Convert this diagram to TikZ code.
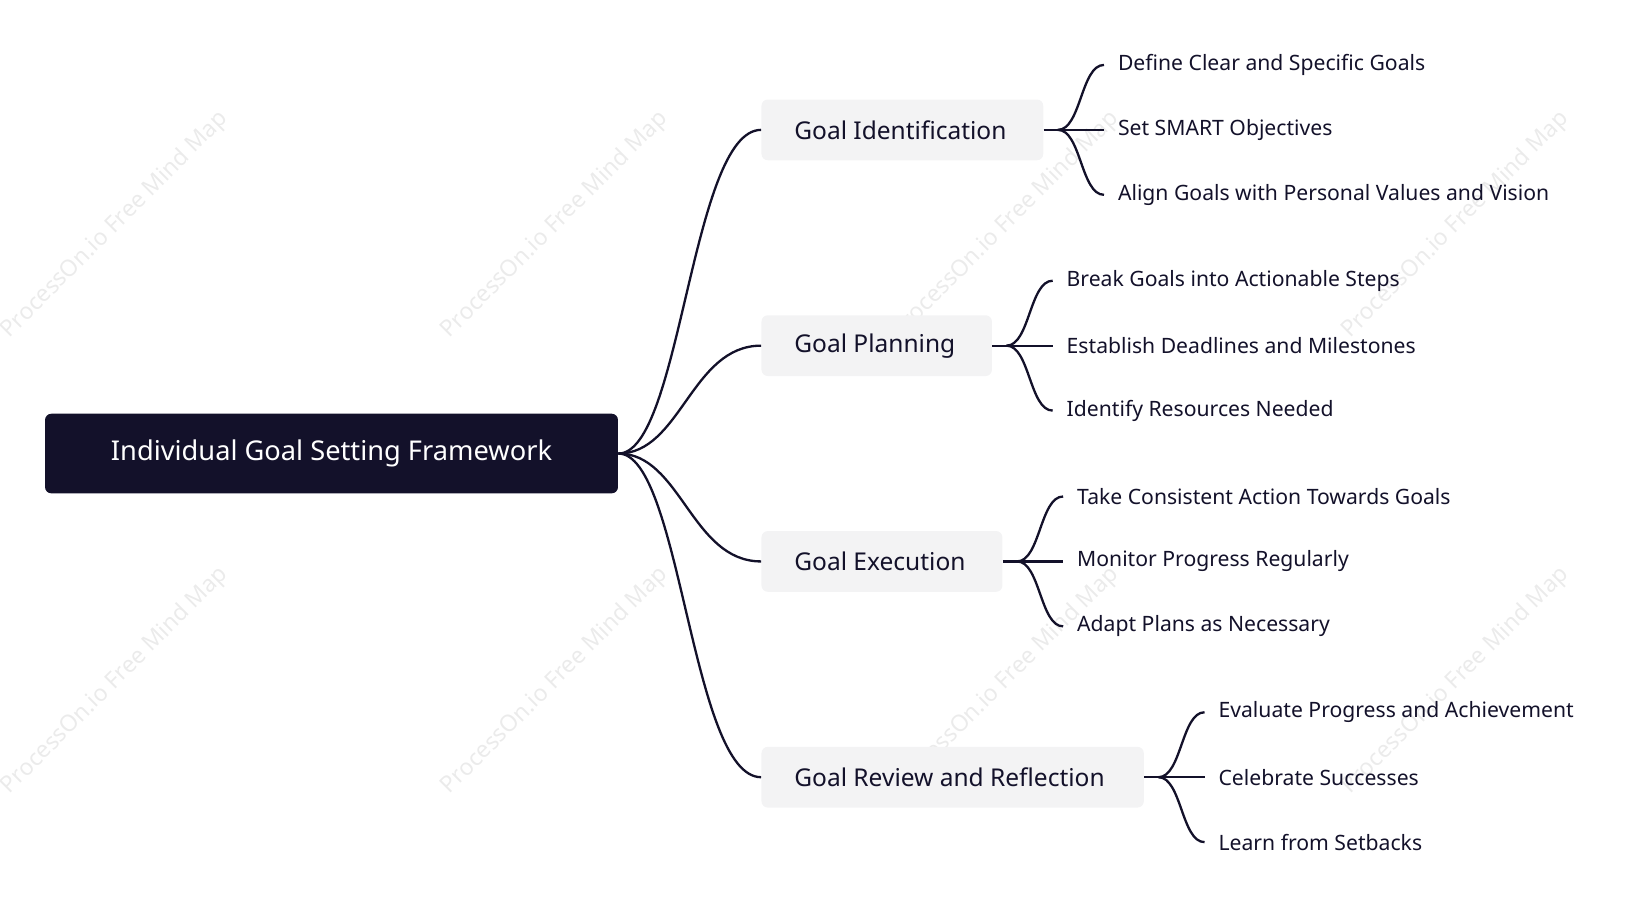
\documentclass[tikz,border=0pt]{standalone}
\usepackage{fontspec}
\setmainfont{Noto Sans}
\begin{document}
\begin{tikzpicture}[x=0.5pt,y=-0.5pt,
  root/.style={fill=rootc,rounded corners=3pt,text=white,font=\fontsize{13}{15}\selectfont,minimum height=38pt,inner sep=0pt},
  br/.style={fill=brc,rounded corners=3pt,text=linec,font=\fontsize{11.7}{14}\selectfont,minimum height=29pt,inner sep=0pt},
  leaf/.style={anchor=west,text=linec,font=\fontsize{10.1}{12}\selectfont,inner sep=0pt},
  con/.style={draw=linec,line width=1.1pt},
  wm/.style={text=black!8,rotate=45,font=\fontsize{11}{13}\selectfont}]
\definecolor{rootc}{HTML}{13112A}
\definecolor{brc}{HTML}{F3F3F4}
\definecolor{linec}{HTML}{13112A}
\useasboundingbox (0,0) rectangle (1560,877);
\foreach \x in {110,530,960,1390}{
  \node[wm] at (\x,215) {ProcessOn.io Free Mind Map};
  \node[wm] at (\x,650) {ProcessOn.io Free Mind Map};}
\node[root,minimum width=273.5pt] (r) at (316.5,433) {Individual Goal Setting Framework};
\foreach \n/\t/\l/\r/\y in {a/Goal Identification/727/996/124, b/Goal Planning/727/947/330, c/Goal Execution/727/957/536, d/Goal Review and Reflection/727/1092/742}{
  \node[br,minimum width={(\r-\l)*0.5pt}] (\n) at ({(\l+\r)/2},\y) {};
  \node[anchor=west,text=linec,font=\fontsize{11.7}{14}\selectfont,inner sep=0pt] at (758,\y) {\t};
  \draw[con] (r.east) .. controls (650,433) and (660,\y) .. (\n.west);
  \coordinate (\n f) at (\r+14,\y);
  \coordinate (\n1) at (\r+58,\y-62);
  \coordinate (\n2) at (\r+58,\y);
  \coordinate (\n3) at (\r+58,\y+62);
  \draw[con] (\n.east) -- (\n2);
  \draw[con] (\n f) .. controls (\r+36,\y) and (\r+36,\y-62) .. (\n1);
  \draw[con] (\n f) .. controls (\r+36,\y) and (\r+36,\y+62) .. (\n3);
}
\node[leaf] (a1t) at (1067,62) {Define Clear and Specific Goals};
\node[leaf] (a2t) at (1067,124) {Set SMART Objectives};
\node[leaf] (a3t) at (1067,186) {Align Goals with Personal Values and Vision};
\node[leaf] (b1t) at (1018,268) {Break Goals into Actionable Steps};
\node[leaf] (b2t) at (1018,330) {Establish Deadlines and Milestones};
\node[leaf] (b3t) at (1018,392) {Identify Resources Needed};
\node[leaf] (c1t) at (1028,474) {Take Consistent Action Towards Goals};
\node[leaf] (c2t) at (1028,536) {Monitor Progress Regularly};
\node[leaf] (c3t) at (1028,598) {Adapt Plans as Necessary};
\node[leaf] (d1t) at (1163,680) {Evaluate Progress and Achievement};
\node[leaf] (d2t) at (1163,742) {Celebrate Successes};
\node[leaf] (d3t) at (1163,804) {Learn from Setbacks};
\end{tikzpicture}
\end{document}
